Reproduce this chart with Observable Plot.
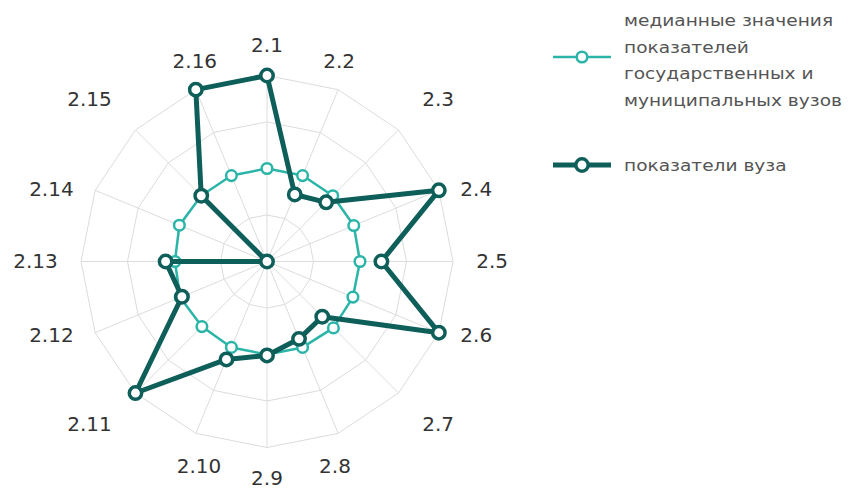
<!DOCTYPE html>
<html>
<head>
<meta charset="utf-8">
<script src="https://cdn.jsdelivr.net/npm/d3@7"></script>
<script src="https://cdn.jsdelivr.net/npm/@observablehq/plot@0.6"></script>
<style>
  html, body { margin: 0; padding: 0; background: #fff; }
  #wrap { position: relative; width: 848px; height: 491px; overflow: hidden; }
  #chart { position: absolute; left: 0; top: 0; }
  .lg-text { position: absolute; left: 624px; font-family: "DejaVu Sans", sans-serif; font-size: 16.3px; line-height: 26.5px; color: #555; white-space: nowrap; transform: scaleX(1.14); transform-origin: 0 0; }
  .lg-swatch { position: absolute; left: 552px; }
</style>
</head>
<body>
<div id="wrap"><div id="chart"></div></div>
<script>
// ---- data ----
const axisLabels = ["2.1","2.2","2.3","2.4","2.5","2.6","2.7","2.8","2.9","2.10","2.11","2.12","2.13","2.14","2.15","2.16"];
const medianValues = [1.0, 1.0, 1.0, 1.01, 1.0, 1.0, 1.01, 1.0, 1.0, 1.0, 0.99, 1.01, 0.99, 1.02, 1.0, 1.0];
const vuzValues    = [2.0, 0.78, 0.90, 2.0, 1.23, 2.0, 0.84, 0.90, 1.01, 1.14, 2.0, 0.99, 1.09, 0, 1.0, 2.0];
const ringLevels = [0.5, 1, 1.5, 2];
const seriesNames = ["медианные значения показателей государственных и муниципальных вузов", "показатели вуза"];
const legendLines = [["медианные значения", "показателей", "государственных и", "муниципальных вузов"], ["показатели вуза"]];
const colors = ["#2bb5a8", "#0e5e59"];

// ---- geometry helpers ----
const n = axisLabels.length;
const maxR = 2;
const ang = i => (i / n) * 2 * Math.PI;
const px = (r, i) => r * Math.sin(ang(i));
const py = (r, i) => r * Math.cos(ang(i));

const ringPts = ringLevels.flatMap(r => axisLabels.map((_, i) => ({ring: r, x: px(r, i), y: py(r, i)})));
const spokes = axisLabels.map((_, i) => ({x1: 0, y1: 0, x2: px(maxR, i), y2: py(maxR, i)}));
const medPts = medianValues.map((v, i) => ({label: axisLabels[i], x: px(v, i), y: py(v, i)}));
const vuzPts = vuzValues.map((v, i) => ({label: axisLabels[i], x: px(v, i), y: py(v, i)}));

// label placement: box edge/corner touching a circle just outside the grid
function labelPlacement(i) {
  const sx = Math.sin(ang(i)), sy = Math.cos(ang(i));
  const ta = sx > 0.5 ? "start" : sx < -0.5 ? "end" : "middle";
  let la;
  if (Math.abs(sy) < 0.1) la = "middle";
  else if (sy > 0.5) la = "bottom";
  else if (sy > 0) la = "top";
  else if (sy > -0.5) la = "bottom";
  else la = "top";
  const diag = Math.abs(Math.abs(sx) - Math.abs(sy)) < 0.01;
  const r = diag ? 2.36 : 2.25;
  let x = px(r, i), y = py(r, i);
  if (ta === "middle" && Math.abs(sx) > 0.1) {
    x -= Math.sign(sx) * (sy > 0 ? 0.085 : 0.13);
    if (sy < 0) y -= 0.045;
  }
  return {ta, la, x, y};
}
const labelPts = axisLabels.map((t, i) => ({text: t, ...labelPlacement(i)}));
const groups = d3.groups(labelPts, d => d.ta + "|" + d.la);
const labelMarks = groups.map(([key, pts]) => Plot.text(pts, {
  x: "x", y: "y", text: "text",
  textAnchor: pts[0].ta, lineAnchor: pts[0].la,
  fontFamily: "DejaVu Sans", fontSize: 20, fill: "#333"
}));

const chart = Plot.plot({
  width: 540,
  height: 491,
  margin: 0,
  x: {domain: [-2, 2], range: [80.5, 452.5], axis: null},
  y: {domain: [-2, 2], range: [447, 75], axis: null},
  style: {background: "transparent"},
  marks: [
    Plot.line(ringPts, {x: "x", y: "y", z: "ring", curve: "linear-closed", stroke: "#dcdcdc", strokeWidth: 1}),
    Plot.link(spokes, {x1: "x1", y1: "y1", x2: "x2", y2: "y2", stroke: "#dcdcdc", strokeWidth: 1}),
    Plot.line(medPts, {x: "x", y: "y", curve: "linear-closed", stroke: colors[0], strokeWidth: 2.5}),
    Plot.dot(medPts, {x: "x", y: "y", r: 5.3, fill: "white", stroke: colors[0], strokeWidth: 2.5}),
    Plot.line(vuzPts, {x: "x", y: "y", curve: "linear-closed", stroke: colors[1], strokeWidth: 5, strokeLinejoin: "round"}),
    Plot.dot(vuzPts, {x: "x", y: "y", r: 6.2, fill: "white", stroke: colors[1], strokeWidth: 3.5}),
    ...labelMarks
  ]
});
document.getElementById("chart").appendChild(chart);

// ---- legend ----
const wrap = document.getElementById("wrap");
const legendTextTop = [8, 152.5];
const legendSwatchY = [57, 165];
const swatchStroke = [2.5, 5];
const swatchR = [5.3, 6.2];
const swatchDotStroke = [2.5, 3.5];
seriesNames.forEach((name, k) => {
  const t = document.createElement("div");
  t.className = "lg-text";
  t.style.top = legendTextTop[k] + "px";
  t.setAttribute("title", name);
  t.innerHTML = legendLines[k].join("<br>");
  wrap.appendChild(t);
  const s = d3.create("svg").attr("class", "lg-swatch").attr("width", 60).attr("height", 20)
    .style("top", (legendSwatchY[k] - 10) + "px");
  s.append("line").attr("x1", 1).attr("x2", 59).attr("y1", 10).attr("y2", 10)
    .attr("stroke", colors[k]).attr("stroke-width", swatchStroke[k]);
  s.append("circle").attr("cx", 30).attr("cy", 10).attr("r", swatchR[k])
    .attr("fill", "white").attr("stroke", colors[k]).attr("stroke-width", swatchDotStroke[k]);
  wrap.appendChild(s.node());
});
</script>
</body>
</html>
